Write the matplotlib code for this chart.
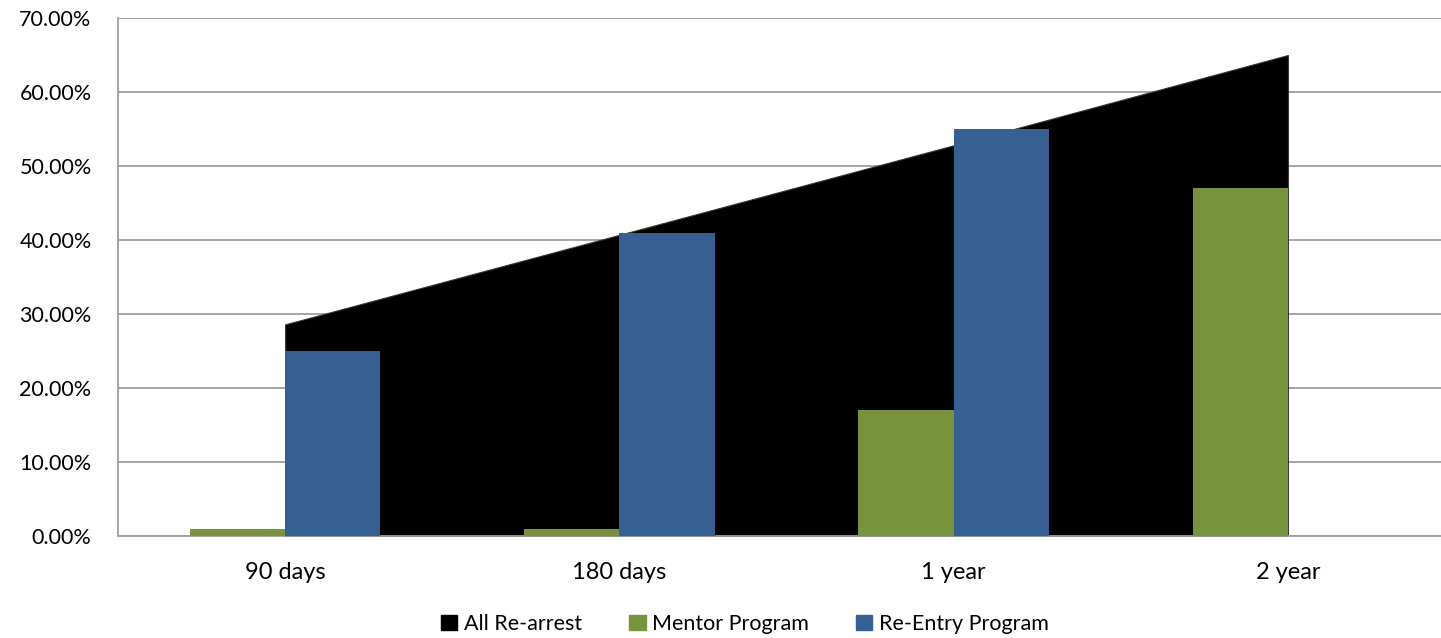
import numpy as np
import matplotlib.pyplot as plt
from matplotlib.patches import Patch
from matplotlib.ticker import FuncFormatter

plt.rcParams['font.family'] = ['Lato', 'DejaVu Sans']

# data
categories = ["90 days", "180 days", "1 year", "2 year"]
all_rearrest = [28.6, 40.7, 52.8, 65.0]
mentor = [1.0, 1.0, 17.0, 47.0]
reentry = [25.0, 41.0, 55.0, 0.0]

c_black = "#000000"
c_green = "#77933C"
c_blue = "#376092"
grid_c = "#9E9E9E"

fig = plt.figure(figsize=(14.41, 6.38), dpi=100)
ax = fig.add_axes([118 / 1441, 1 - 536 / 638, (1441 - 118) / 1441, (536 - 18) / 638])

x = np.arange(len(categories))
w = 0.285

# area series behind bars
ax.fill_between(x, all_rearrest, 0, color=c_black, edgecolor="#333333", linewidth=0.8, zorder=2)
ax.bar(x - w / 2, mentor, width=w, color=c_green, zorder=3)
ax.bar(x + w / 2, reentry, width=w, color=c_blue, zorder=3)

ax.set_xlim(-0.5, 3.5 - 14 / 334)
ax.set_ylim(0, 70)
ax.set_yticks(np.arange(0, 71, 10))
ax.yaxis.set_major_formatter(FuncFormatter(lambda v, p: f"{v:.2f}%"))
ax.set_xticks(x)
ax.set_xticklabels(categories)

ax.grid(axis="y", color=grid_c, linewidth=1.3, zorder=0)
ax.set_axisbelow(True)
for s in ["top", "right"]:
    ax.spines[s].set_visible(False)
ax.spines["left"].set_color(grid_c)
ax.spines["left"].set_linewidth(1.3)
ax.spines["bottom"].set_color(grid_c)
ax.spines["bottom"].set_linewidth(1.3)
ax.tick_params(axis="y", length=0, pad=19, labelsize=15.5)
ax.tick_params(axis="x", length=0, pad=19, labelsize=17)

handles = [Patch(color=c_black), Patch(color=c_green), Patch(color=c_blue)]
labels = ["All Re-arrest", "Mentor Program", "Re-Entry Program"]
fig.legend(handles, labels, loc="center", bbox_to_anchor=(745 / 1441, 1 - 624 / 638),
           ncol=3, frameon=False, fontsize=15.5, handlelength=0.75, handleheight=0.75,
           handletextpad=0.3, columnspacing=2.2)

fig.savefig("out.png", dpi=100)
